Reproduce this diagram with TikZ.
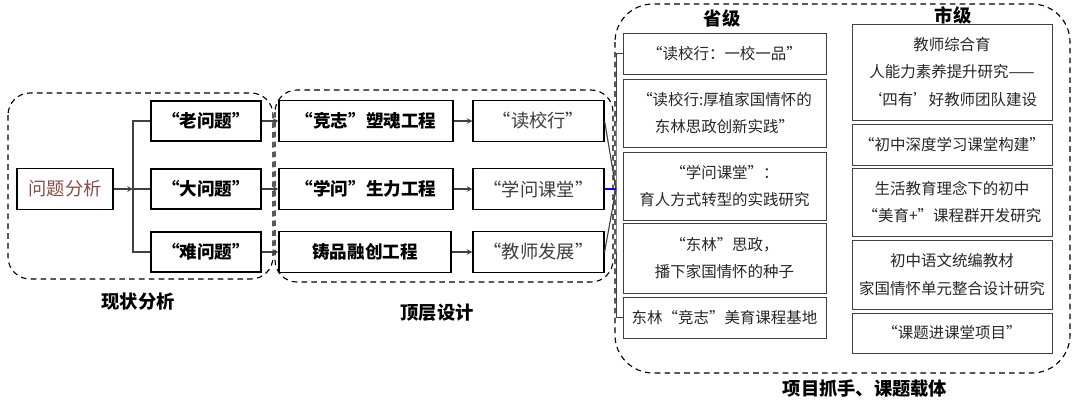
\documentclass[tikz,border=0pt]{standalone}
\usepackage{fontspec}
\setmainfont{Noto Sans CJK SC}
\definecolor{rusty}{RGB}{138,75,69}
\definecolor{inkgray}{RGB}{60,60,66}

\begin{document}
\begin{tikzpicture}[>=stealth, x=0.025cm, y=-0.025cm,
  qbox/.style={draw, line width=0.8pt, minimum width=2.75cm, minimum height=1cm, font=\fontsize{12.5}{15}\selectfont\bfseries},
  hbox/.style={draw, line width=0.8pt, minimum height=1.025cm, font=\fontsize{12.5}{15}\selectfont\bfseries},
  gbox/.style={draw, line width=0.8pt, minimum width=3.275cm, minimum height=1.025cm, text=inkgray, font=\fontsize{13}{15}\selectfont},
  pbox/.style={draw=black!75, line width=0.6pt, minimum width=5.075cm, align=center, text=black!85, font=\fontsize{11}{19.5}\selectfont},
  cbox/.style={pbox, minimum width=5cm},
  frame/.style={dashed, dash pattern=on 4pt off 3pt, line width=0.8pt},
  lab/.style={font=\fontsize{13}{15}\selectfont\bfseries},
  link/.style={line width=0.8pt, black!75}]
\useasboundingbox (0,0) rectangle (1080,403);

\draw[frame, rounded corners=0.55cm] (8,93) rectangle (273,279);
\draw[frame, rounded corners=0.55cm] (275,90) rectangle (613,282);
\draw[frame, rounded corners=0.95cm] (615,4) rectangle (1070,373);

\node[draw, line width=0.8pt, minimum width=2.4cm, minimum height=1.025cm, text=rusty, font=\fontsize{13}{15}\selectfont] (wtfx) at (65,189) {问题分析};
\coordinate (jn) at (133,189);
\node[qbox] (lao) at (206,121) {“老问题”};
\node[qbox] (da) at (206,189) {“大问题”};
\node[qbox] (nan) at (206,252) {“难问题”};

\node[hbox, minimum width=4.35cm] (jz) at (366,121) {“竞志”塑魂工程};
\node[hbox, minimum width=4.35cm] (xw) at (366,189) {“学问”生力工程};
\node[hbox, minimum width=4.3cm] (zp) at (365,252) {铸品融创工程};

\node[gbox] (dxx) at (538.5,121) {“读校行”};
\node[gbox] (xwkt) at (538.5,189) {“学问课堂”};
\node[gbox] (jsfz) at (538.5,252) {“教师发展”};
\coordinate (cv) at (616,189);

\draw[link, ->] (wtfx) -- (jn);
\draw[link] (lao.west) -| (jn) |- (nan.west);
\draw[link] (jn) -- (da.west);
\draw[link, ->] (lao) -- (jz);
\draw[link, ->] (da) -- (xw);
\draw[link, ->] (nan) -- (zp);
\draw[link, ->] (jz) -- (dxx);
\draw[link, ->] (xw) -- (xwkt);
\draw[link, ->] (zp) -- (jsfz);
\draw[link] (dxx.east) -- (cv);
\draw[line width=0.9pt, blue] (xwkt.east) -- (cv);
\draw[link] (jsfz.east) -- (cv);

\node[lab] (sj) at (722,18) {省级};
\node[lab] (shij) at (953,15) {市级};

\node[pbox, minimum height=1.025cm] (p1) at (724.5,53.5) {“读校行：一校一品”};
\node[pbox, minimum height=1.7cm] (p2) at (724.5,113) {“读校行:厚植家国情怀的\\东林思政创新实践”};
\node[pbox, minimum height=1.7cm] (p3) at (724.5,186) {“学问课堂”：\\育人方式转型的实践研究};
\node[pbox, minimum height=1.75cm] (p4) at (724.5,258) {“东林”思政，\\播下家国情怀的种子};
\node[pbox, minimum height=1.025cm] (p5) at (724.5,317.5) {东林“竞志”美育课程基地};
\draw[link, line width=0.6pt] (p1.west) -| (cv) |- (p5.west);

\node[cbox, minimum height=2.4cm] (c1) at (952,72) {教师综合育\\人能力素养提升研究——\\‘四有’好教师团队建设};
\node[cbox, minimum height=1.025cm] (c2) at (952,144.5) {“初中深度学习课堂构建”};
\node[cbox, minimum height=1.7cm] (c3) at (952,202) {生活教育理念下的初中\\“美育+”课程群开发研究};
\node[cbox, minimum height=1.725cm] (c4) at (952,274.5) {初中语文统编教材\\家国情怀单元整合设计研究};
\node[cbox, minimum height=1cm] (c5) at (952,333) {“课题进课堂项目”};

\node[lab] (xzfx) at (138,302) {现状分析};
\node[lab] (dcsj) at (437,313) {顶层设计};
\node[lab] (xmzs) at (865,389) {项目抓手、课题载体};
\end{tikzpicture}
\end{document}
